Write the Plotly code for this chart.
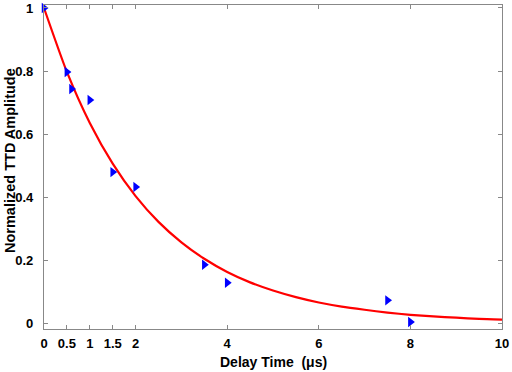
import plotly.graph_objects as go

# measured data (markers)
delay_us = [0, 0.5, 0.6, 1.0, 1.5, 2.0, 3.5, 4.0, 7.5, 8.0]
amplitude = [1.0, 0.797, 0.743, 0.708, 0.479, 0.432, 0.185, 0.128, 0.072, 0.003]

# fitted curve (red line)
fit_t = [0, 0.5, 1, 1.5, 2, 2.5, 3, 3.5, 4, 4.5, 5, 5.5, 6, 6.5, 7, 7.5, 8, 8.5, 9, 9.5, 10]
fit_y = [1.0, 0.797, 0.635, 0.506, 0.403, 0.321, 0.256, 0.204, 0.162, 0.129, 0.103,
         0.082, 0.065, 0.052, 0.042, 0.033, 0.026, 0.021, 0.017, 0.013, 0.011]

x_ticks = [0, 0.5, 1, 1.5, 2, 4, 6, 8, 10]
x_ticktext = ["0", "0.5", "1", "1.5", "2", "4", "6", "8", "10"]
y_ticks = [0, 0.2, 0.4, 0.6, 0.8, 1]
y_ticktext = ["0", "0.2", "0.4", "0.6", "0.8", "1"]

x_title = "Delay Time  (μs)"
y_title = "Normalized TTD Amplitude"

font_family = "Liberation Sans, Arial, sans-serif"

fig = go.Figure()
fig.add_trace(go.Scatter(
    x=fit_t, y=fit_y, mode="lines",
    line=dict(color="#ff0000", width=2.2, shape="spline", smoothing=0.6),
    showlegend=False, hoverinfo="skip", cliponaxis=False,
))
fig.add_trace(go.Scatter(
    x=delay_us, y=amplitude, mode="markers",
    marker=dict(symbol="triangle-right", size=9, color="#0000ff", line=dict(width=0)),
    showlegend=False, cliponaxis=False,
))

axis_common = dict(
    showline=True, linecolor="#888888", linewidth=1.2, mirror="ticks",
    ticks="inside", ticklen=4, tickwidth=1, tickcolor="#888888",
    showgrid=False, zeroline=False, automargin=False,
    tickfont=dict(family=font_family, size=13, color="black", weight="bold"),
)

fig.update_layout(
    width=512, height=372,
    margin=dict(l=44, r=10, t=5, b=43),
    paper_bgcolor="white", plot_bgcolor="white",
    xaxis=dict(range=[0, 10], tickvals=x_ticks, ticktext=x_ticktext,
               ticklabelstandoff=2, **axis_common),
    yaxis=dict(range=[-0.019, 1.0095], tickvals=y_ticks, ticktext=y_ticktext,
               ticklabelstandoff=7, **axis_common),
    annotations=[
        dict(text=x_title, xref="paper", yref="paper", x=0.5, y=0,
             yshift=-33, showarrow=False, xanchor="center", yanchor="middle",
             font=dict(family=font_family, size=14, color="black", weight="bold")),
        dict(text=y_title, xref="paper", yref="paper", x=0, y=0.5185,
             xshift=-34, showarrow=False, xanchor="center", yanchor="middle",
             textangle=-90,
             font=dict(family=font_family, size=14.5, color="black", weight="bold")),
    ],
)

fig.write_html("out.html", config={"displayModeBar": False},
               post_script="document.body.style.margin='0';")
